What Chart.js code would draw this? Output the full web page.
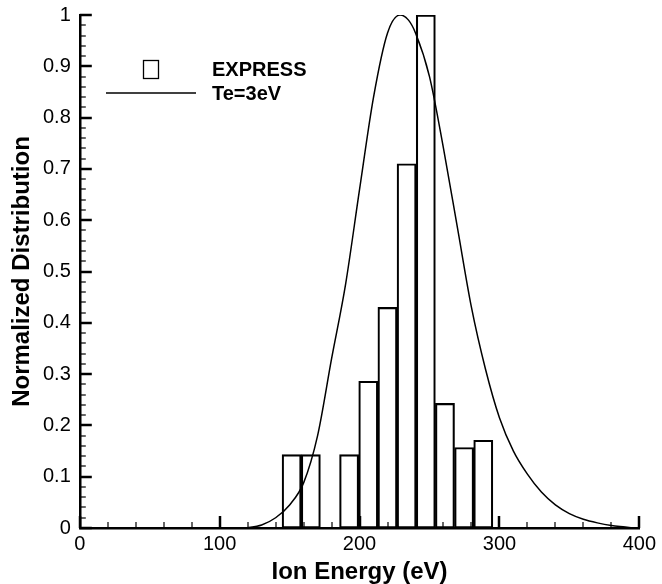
<!DOCTYPE html>
<html>
<head>
<meta charset="utf-8">
<script src="https://cdn.jsdelivr.net/npm/chart.js@4/dist/chart.umd.min.js"></script>
<style>
  html, body { margin: 0; padding: 0; background: #fff; overflow: hidden; }
  #wrap { width: 662px; height: 588px; position: relative; margin-top: -4px; }
</style>
</head>
<body>
<div id="wrap"><canvas id="chart"></canvas></div>
<script>
// Histogram (EXPRESS): bin centres in eV and normalized heights
const binCentres = [151.45, 165.15, 192.55, 206.25, 219.95, 233.65, 247.35, 261.05, 274.75, 288.45];
const binHeights = [0.143, 0.143, 0.143, 0.286, 0.43, 0.71, 1.0, 0.243, 0.157, 0.171];

// Model curve (Te=3eV)
const curveEnergy = [118, 130, 140, 150, 160, 170, 180, 190, 200, 210, 220, 229, 235, 240, 250, 260, 270, 280, 290, 300, 310, 320, 330, 340, 350, 360, 370, 380, 390, 396];
const curveValue  = [0, 0.006, 0.02, 0.045, 0.088, 0.18, 0.33, 0.475, 0.66, 0.84, 0.965, 1.0, 0.99, 0.965, 0.88, 0.74, 0.585, 0.43, 0.31, 0.215, 0.15, 0.105, 0.07, 0.045, 0.028, 0.017, 0.01, 0.005, 0.002, 0];

const xTicks = [0, 100, 200, 300, 400];
const yTicks = [0, 0.1, 0.2, 0.3, 0.4, 0.5, 0.6, 0.7, 0.8, 0.9, 1];

const FONT = "'Liberation Sans', Arial, sans-serif";

// ticks pointing into the plot, with minor ticks
const innerTicks = {
    id: 'innerTicks',
    afterDraw(chart) {
        const ctx = chart.ctx;
        const xs = chart.scales.x, ys = chart.scales.y;
        const x0 = xs.left, y0 = ys.bottom;
        ctx.save();
        ctx.strokeStyle = '#000';
        for (let v = 0; v <= 400; v += 20) {
            const major = v % 100 === 0;
            const px = Math.round(xs.getPixelForValue(v));
            ctx.lineWidth = major ? 2.5 : 1.2;
            ctx.beginPath();
            ctx.moveTo(px, y0);
            ctx.lineTo(px, y0 - (major ? 12 : 6));
            ctx.stroke();
        }
        for (let i = 0; i <= 50; i++) {
            const major = i % 5 === 0;
            const py = Math.round(ys.getPixelForValue(i / 50));
            ctx.lineWidth = major ? 2.5 : 1.2;
            ctx.beginPath();
            ctx.moveTo(x0, py);
            ctx.lineTo(x0 + (major ? 12 : 6), py);
            ctx.stroke();
        }
        ctx.restore();
    }
};

// legend placed inside the plot like the original (canvas is shifted up 4px)
const innerLegend = {
    id: 'innerLegend',
    afterDraw(chart) {
        const ctx = chart.ctx;
        ctx.save();
        ctx.translate(0, 4);
        ctx.strokeStyle = '#000';
        ctx.lineWidth = 1.3;
        ctx.strokeRect(143.5, 60.5, 15, 18);
        ctx.lineWidth = 1.5;
        ctx.beginPath();
        ctx.moveTo(106, 93);
        ctx.lineTo(196, 93);
        ctx.stroke();
        ctx.fillStyle = '#000';
        ctx.font = 'bold 20px ' + FONT;
        ctx.textBaseline = 'middle';
        ctx.fillText('EXPRESS', 212, 70);
        ctx.fillText('Te=3eV', 212, 94);
        ctx.restore();
    }
};

new Chart(document.getElementById('chart'), {
    type: 'bar',
    data: {
        datasets: [
            {
                type: 'line',
                label: 'Te=3eV',
                data: curveEnergy.map((e, i) => ({ x: e, y: curveValue[i] })),
                borderColor: '#000',
                borderWidth: 1.5,
                pointRadius: 0,
                fill: false,
                cubicInterpolationMode: 'monotone',
                order: 0
            },
            {
                label: 'EXPRESS',
                data: binCentres.map((c, i) => ({ x: c, y: binHeights[i] })),
                backgroundColor: 'rgba(255,255,255,0)',
                borderColor: '#000',
                borderWidth: 1.5,
                borderSkipped: false,
                barPercentage: 1,
                categoryPercentage: 1,
                order: 1
            }
        ]
    },
    options: {
        responsive: true,
        maintainAspectRatio: false,
        animation: false,
        layout: { padding: { top: 0, right: 21, left: 10, bottom: 0 } },
        plugins: { legend: { display: false }, tooltip: { enabled: false } },
        scales: {
            x: {
                type: 'linear',
                offset: false,
                min: 0, max: 400,
                grid: { display: false, drawTicks: false, tickLength: 0 },
                border: { display: true, color: '#000', width: 2.5 },
                afterBuildTicks: s => { s.ticks = xTicks.map(v => ({ value: v })); },
                ticks: { color: '#000', font: { family: FONT, size: 20, lineHeight: 1 }, padding: 6, maxRotation: 0 },
                title: { display: true, text: 'Ion Energy (eV)', color: '#000', font: { family: FONT, size: 24, weight: 'bold', lineHeight: 1 }, padding: { top: 0, bottom: 0 } }
            },
            y: {
                min: 0, max: 1,
                grid: { display: false, drawTicks: false, tickLength: 0 },
                border: { display: true, color: '#000', width: 2.5 },
                afterBuildTicks: s => { s.ticks = yTicks.map(v => ({ value: v })); },
                ticks: { color: '#000', font: { family: FONT, size: 20, lineHeight: 1 }, padding: 9, callback: v => String(+v.toFixed(1)) },
                title: { display: true, text: 'Normalized Distribution', color: '#000', font: { family: FONT, size: 24, weight: 'bold', lineHeight: 1 }, padding: { top: 0, bottom: 0 } }
            }
        }
    },
    plugins: [innerTicks, innerLegend]
});
</script>
</body>
</html>
